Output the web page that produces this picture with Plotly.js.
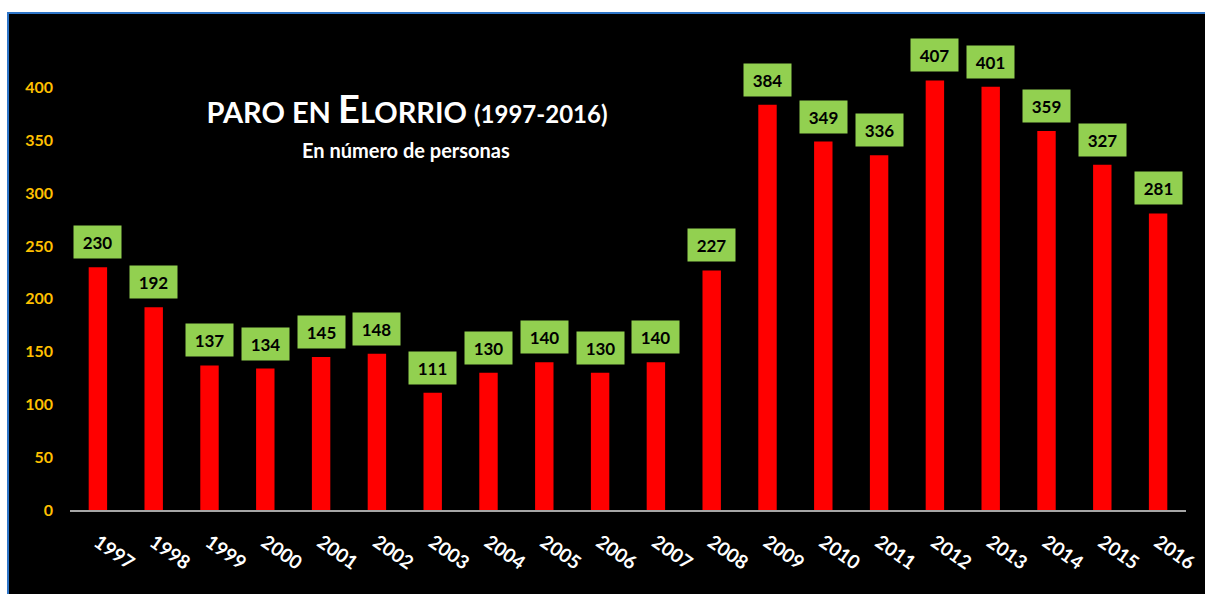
<!DOCTYPE html>
<html>
<head>
<meta charset="utf-8">
<script src="https://cdn.plot.ly/plotly-3.0.1.min.js"></script>
<style>
  html, body { margin:0; padding:0; background:#ffffff; width:1205px; height:594px; overflow:hidden; }
  #frame { position:absolute; left:7px; top:12px; width:1300px; height:700px; background:#000; border:2px solid #2E75C8; box-sizing:border-box; }
  #chart { position:absolute; left:0; top:0; width:1205px; height:594px; }
</style>
</head>
<body>
<div id="frame"></div>
<div id="chart"></div>
<script>
const years = ['1997','1998','1999','2000','2001','2002','2003','2004','2005','2006','2007','2008','2009','2010','2011','2012','2013','2014','2015','2016'];
const parados = [230,192,137,134,145,148,111,130,140,130,140,227,384,349,336,407,401,359,327,281];
const yTicks = [0,50,100,150,200,250,300,350,400];

const FONT = 'Lato, "Open Sans", sans-serif';

const labelAnnotations = years.map((y, i) => ({
  x: i, y: parados[i], xref: 'x', yref: 'y',
  text: '<b>' + parados[i] + '</b>',
  showarrow: false, yanchor: 'bottom', yshift: 8,
  width: 45, height: 30,
  bgcolor: '#92D050',
  font: {family: FONT, size: 17, color: '#000'}
}));

const data = [{
  type: 'bar', x: years, y: parados,
  marker: {color: '#FF0000'},
  hoverinfo: 'x+y'
}];

const layout = {
  width: 1205, height: 594,
  margin: {l: 70, r: 19, t: 35, b: 84},
  paper_bgcolor: 'rgba(0,0,0,0)',
  plot_bgcolor: 'rgba(0,0,0,0)',
  bargap: 0.67,
  showlegend: false,
  title: {
    text: '<b>PARO EN <span style="font-size:38px">E</span>LORRIO <span style="font-size:24px">(1997-2016)</span></b>',
    x: 407/1205, xanchor: 'center', xref: 'container',
    y: 1 - 113/594, yanchor: 'middle', yref: 'container',
    font: {family: FONT, size: 29, color: '#fff'}
  },
  xaxis: {
    type: 'category', range: [-0.5, years.length - 0.5], autorange: false,
    tickangle: 35, ticks: '', showgrid: false, zeroline: false,
    showline: true, linecolor: '#A6A6A6', linewidth: 2,
    ticklabelstandoff: 12,
    tickfont: {family: FONT, size: 19, color: '#fff', weight: 'bold'}
  },
  yaxis: {
    range: [0, 450], autorange: false, tickvals: yTicks, ticktext: yTicks.map(String),
    showgrid: false, zeroline: false, showline: false, ticks: '',
    ticklabelstandoff: 16,
    tickfont: {family: FONT, size: 16, color: '#FFC000', weight: 'bold'}
  },
  annotations: labelAnnotations.concat([{
    text: '<b>En número de personas</b>',
    xref: 'paper', yref: 'paper',
    x: (406 - 70) / (1205 - 70 - 19), y: (510 - 150) / (594 - 35 - 84),
    xanchor: 'center', yanchor: 'middle', showarrow: false,
    font: {family: FONT, size: 20, color: '#fff'}
  }])
};

Plotly.newPlot('chart', data, layout, {displayModeBar: false, staticPlot: true});
</script>
</body>
</html>
